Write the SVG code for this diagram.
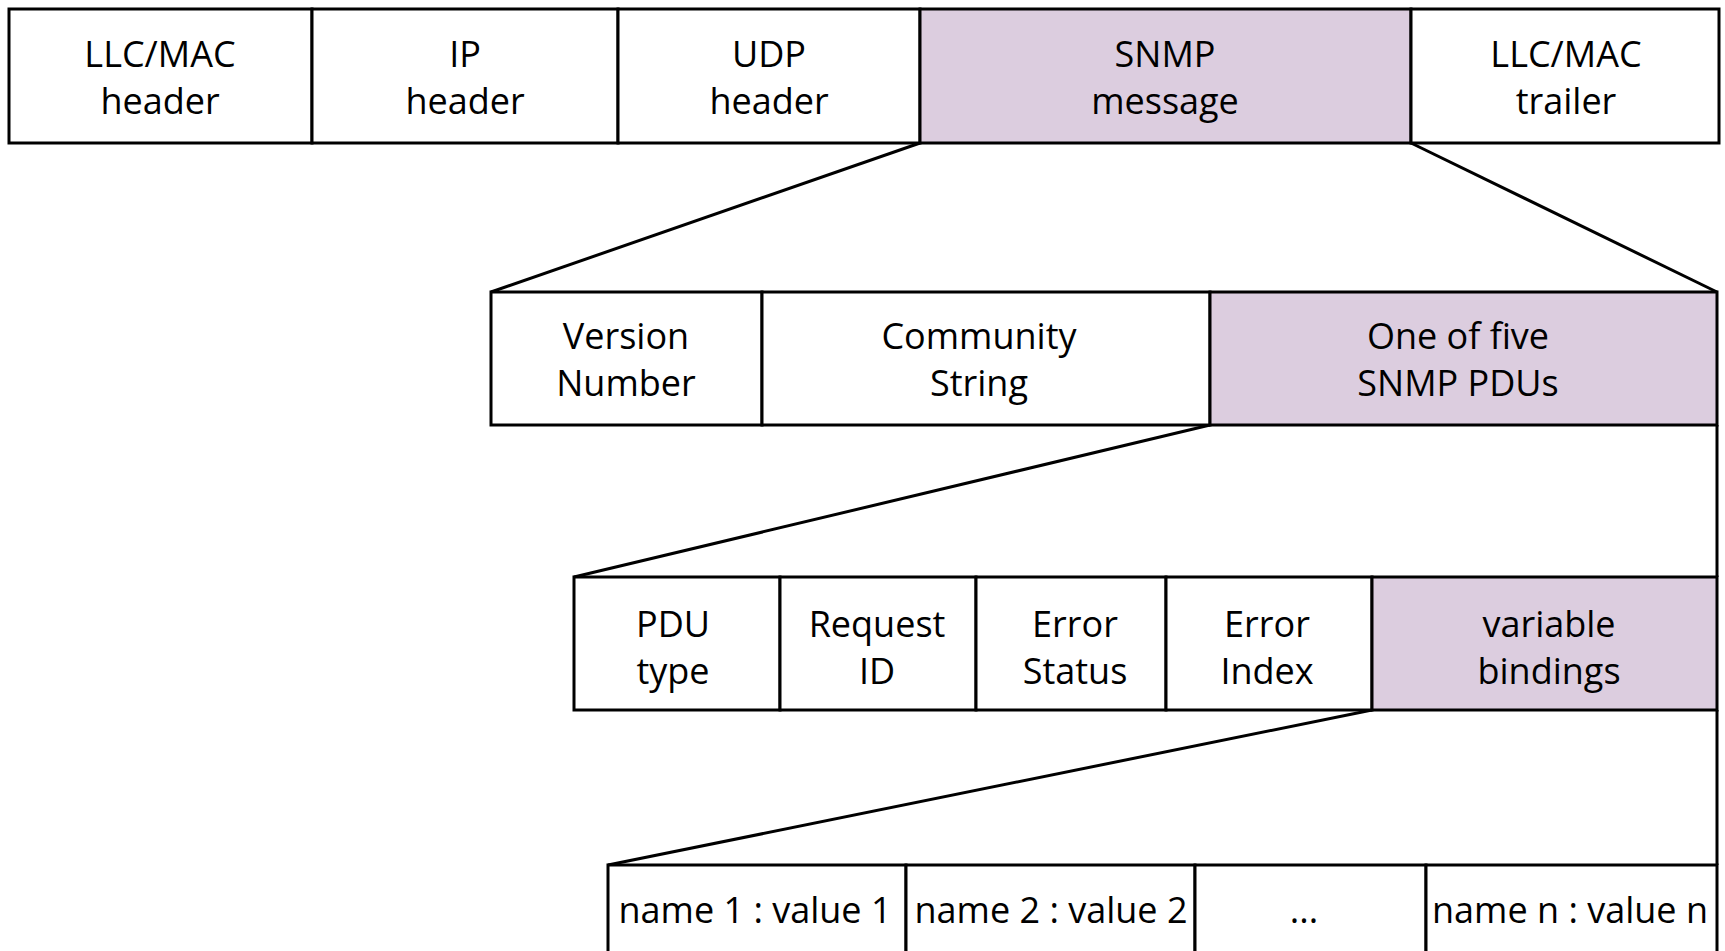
<svg xmlns="http://www.w3.org/2000/svg" width="1725" height="951" viewBox="0 0 1725 951">
<style>
.b{fill:#fff;stroke:#000;stroke-width:3}
.p{fill:#dccddf;stroke:#000;stroke-width:3}
.t{font-family:"Open Sans","Noto Sans",sans-serif;font-size:36px;fill:#000;text-anchor:middle}
.c{fill:none;stroke:#000;stroke-width:3;stroke-linejoin:miter}
</style>
<rect width="1725" height="951" fill="#fff"/>
<g id="connectors">
<line class="c" x1="920" y1="143" x2="491" y2="292"/>
<line class="c" x1="1411" y1="143" x2="1717" y2="292"/>
<line class="c" x1="1210" y1="425" x2="574" y2="577"/>
<line class="c" x1="1372" y1="710" x2="608" y2="865"/>
<line class="c" x1="1717" y1="425" x2="1717" y2="577"/>
<line class="c" x1="1717" y1="710" x2="1717" y2="865"/>
</g>
<g id="llc-mac-header"><rect class="b" x="9" y="9" width="303" height="134"/><text class="t" x="160" y="67">LLC/MAC</text><text class="t" x="160" y="114">header</text></g>
<g id="ip-header"><rect class="b" x="312" y="9" width="306" height="134"/><text class="t" x="465" y="67">IP</text><text class="t" x="465" y="114">header</text></g>
<g id="udp-header"><rect class="b" x="618" y="9" width="302" height="134"/><text class="t" x="769" y="67">UDP</text><text class="t" x="769" y="114">header</text></g>
<g id="snmp-message"><rect class="p" x="920" y="9" width="491" height="134"/><text class="t" x="1165" y="67">SNMP</text><text class="t" x="1165" y="114">message</text></g>
<g id="llc-mac-trailer"><rect class="b" x="1411" y="9" width="308" height="134"/><text class="t" x="1566" y="67">LLC/MAC</text><text class="t" x="1566" y="114">trailer</text></g>

<g id="version-number"><rect class="b" x="491" y="292" width="271" height="133"/><text class="t" x="626" y="349">Version</text><text class="t" x="626" y="396">Number</text></g>
<g id="community-string"><rect class="b" x="762" y="292" width="448" height="133"/><text class="t" x="979" y="349">Community</text><text class="t" x="979" y="396">String</text></g>
<g id="snmp-pdus"><rect class="p" x="1210" y="292" width="507" height="133"/><text class="t" x="1458" y="349">One of five</text><text class="t" x="1458" y="396">SNMP PDUs</text></g>

<g id="pdu-type"><rect class="b" x="574" y="577" width="206" height="133"/><text class="t" x="673" y="637">PDU</text><text class="t" x="673" y="684">type</text></g>
<g id="request-id"><rect class="b" x="780" y="577" width="196" height="133"/><text class="t" x="877" y="637">Request</text><text class="t" x="877" y="684">ID</text></g>
<g id="error-status"><rect class="b" x="976" y="577" width="190" height="133"/><text class="t" x="1075" y="637">Error</text><text class="t" x="1075" y="684">Status</text></g>
<g id="error-index"><rect class="b" x="1166" y="577" width="206" height="133"/><text class="t" x="1267" y="637">Error</text><text class="t" x="1267" y="684">Index</text></g>
<g id="variable-bindings"><rect class="p" x="1372" y="577" width="345" height="133"/><text class="t" x="1549" y="637">variable</text><text class="t" x="1549" y="684">bindings</text></g>

<g id="name1"><rect class="b" x="608" y="865" width="298" height="110"/><text class="t" x="755" y="923">name 1 : value 1</text></g>
<g id="name2"><rect class="b" x="906" y="865" width="289" height="110"/><text class="t" x="1051" y="923">name 2 : value 2</text></g>
<g id="ellipsis"><rect class="b" x="1195" y="865" width="231" height="110"/><text class="t" x="1304" y="923">...</text></g>
<g id="namen"><rect class="b" x="1426" y="865" width="291" height="110"/><text class="t" x="1570" y="923">name n : value n</text></g>
</svg>
